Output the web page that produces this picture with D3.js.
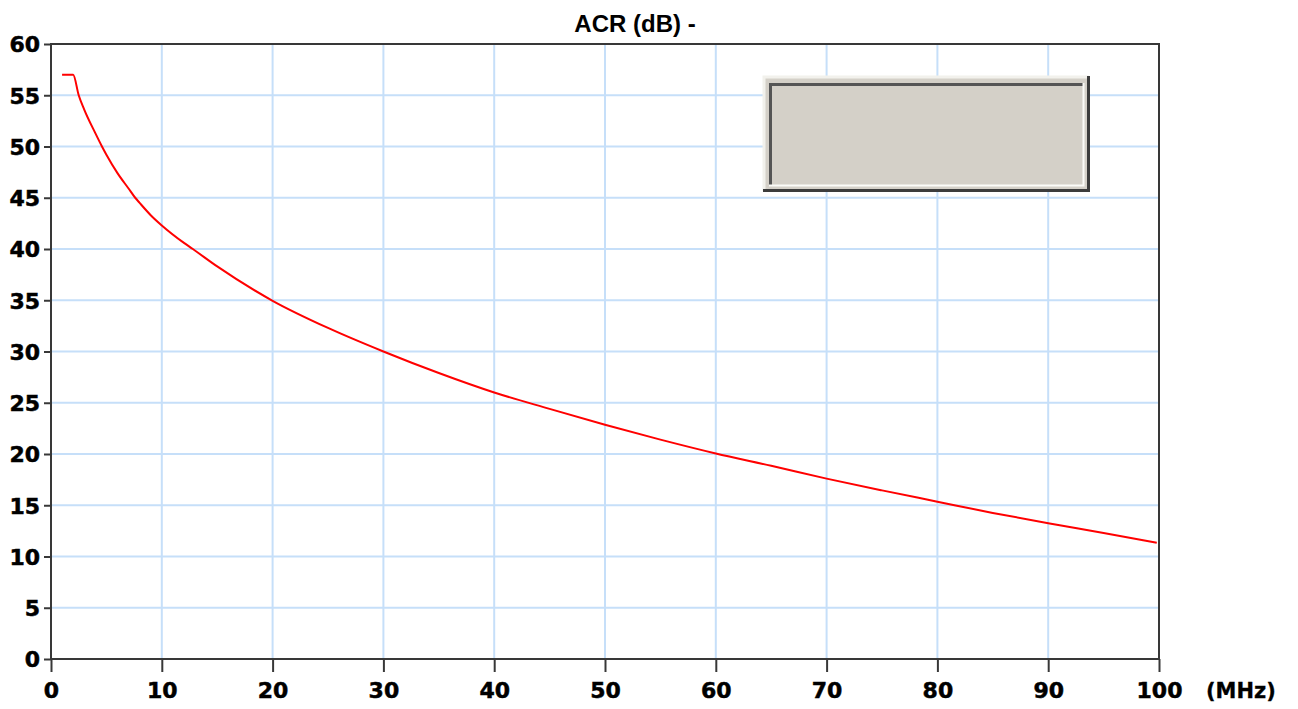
<!DOCTYPE html>
<html><head><meta charset="utf-8">
<script src="https://cdn.jsdelivr.net/npm/d3@7"></script>
<style>html,body{margin:0;padding:0;background:#fff;}svg{display:block;}</style>
</head><body>
<svg id="chart" width="1298" height="709"></svg>
<script>
const titleText = "ACR (dB) -";
const xUnit = "(MHz)";
const xTicks = [0,10,20,30,40,50,60,70,80,90,100];
const yTicks = [0,5,10,15,20,25,30,35,40,45,50,55,60];
const freq = [1,2,2.5,3,4,4.6,5,6,7,7.6,8,9,10,12,12.8,15,20,25,30,35,40,45,50,55,60,65,70,75,80,85,90,95,99.8];
const acr  = [57,57,55,53.6,51.3,50,49.2,47.4,45.9,45,44.5,43.3,42.3,40.6,40,38.3,34.95,32.3,30,27.9,26,24.4,22.85,21.4,20.05,18.85,17.6,16.45,15.35,14.25,13.25,12.3,11.35];

const svg = d3.select("#chart");
const L = 51, R = 1159, T = 44, B = 659;
const x = d3.scaleLinear().domain([0,100]).range([L,R]);
const y = d3.scaleLinear().domain([0,60]).range([B,T]);

const grid = "#c6dff9";
svg.append("g").selectAll("line").data(xTicks.filter(d=>d>0&&d<100)).join("line")
  .attr("x1",d=>x(d)).attr("x2",d=>x(d)).attr("y1",T).attr("y2",B)
  .attr("stroke",grid).attr("stroke-width",2);
svg.append("g").selectAll("line").data(yTicks.filter(d=>d>0&&d<60)).join("line")
  .attr("y1",d=>y(d)).attr("y2",d=>y(d)).attr("x1",L).attr("x2",R)
  .attr("stroke",grid).attr("stroke-width",2);

// legend box (3D bevel)
const lg = svg.append("g");
const bx0=763, by0=76, bx1=1090, by1=192;
lg.append("rect").attr("x",bx0).attr("y",by0).attr("width",bx1-bx0).attr("height",by1-by0).attr("fill","#d4d0c8");
lg.append("path").attr("d",`M${bx0+1},${by1-1}V${by0+1}H${bx1-1}`).attr("fill","none").attr("stroke","#f2f1ec").attr("stroke-width",3);
lg.append("path").attr("d",`M${bx0},${by1-1.5}H${bx1-1.5}V${by0}`).attr("fill","none").attr("stroke","#3c3c3c").attr("stroke-width",3);
lg.append("path").attr("d",`M${bx0+7.5},${by1-7}V${by0+8.5}H${bx1-7}`).attr("fill","none").attr("stroke","#555555").attr("stroke-width",3);
lg.append("path").attr("d",`M${bx0+6},${by1-6.5}H${bx1-6.5}V${by0+7}`).attr("fill","none").attr("stroke","#fbfbf8").attr("stroke-width",2);

// curve
const line = d3.line().x((d,i)=>x(freq[i])).y(d=>y(d)).curve(d3.curveMonotoneX);
svg.append("path").datum(acr).attr("d",line).attr("fill","none")
  .attr("stroke","#ff0000").attr("stroke-width",2).attr("stroke-linejoin","round");

// frame
const ax = "#383838";
svg.append("rect").attr("x",L).attr("y",T).attr("width",R-L).attr("height",B-T)
  .attr("fill","none").attr("stroke",ax).attr("stroke-width",2);

const fnt = "'DejaVu Sans', sans-serif";
const xa = svg.append("g").attr("transform",`translate(0,${B})`)
  .call(d3.axisBottom(x).tickValues(xTicks).tickSize(13).tickSizeOuter(0).tickPadding(6).tickFormat(d3.format("d")));
xa.select(".domain").remove();
xa.selectAll("line").attr("stroke",ax).attr("stroke-width",2);
xa.selectAll("text").attr("font-family",fnt).attr("font-weight","bold").attr("font-size",22).attr("fill","#000")
  .attr("stroke","#000").attr("stroke-width",0.5).attr("dy","0").attr("y",39);

const ya = svg.append("g").attr("transform",`translate(${L},0)`)
  .call(d3.axisLeft(y).tickValues(yTicks).tickSize(7).tickSizeOuter(0).tickPadding(4).tickFormat(d3.format("d")));
ya.select(".domain").remove();
ya.selectAll("line").attr("stroke",ax).attr("stroke-width",2);
ya.selectAll("text").attr("font-family",fnt).attr("font-weight","bold").attr("font-size",22).attr("fill","#000")
  .attr("stroke","#000").attr("stroke-width",0.5).attr("dy","0.36em").attr("x",-11);

svg.append("text").attr("x",1206).attr("y",698).attr("font-family",fnt).attr("font-weight","bold")
  .attr("font-size",21).attr("fill","#000").attr("stroke","#000").attr("stroke-width",0.3).text(xUnit);

svg.append("text").attr("x",635).attr("y",32).attr("text-anchor","middle")
  .attr("font-family","'Liberation Sans', Arial, sans-serif").attr("font-weight","bold")
  .attr("font-size",24).attr("fill","#000").text(titleText);
</script>
</body></html>
